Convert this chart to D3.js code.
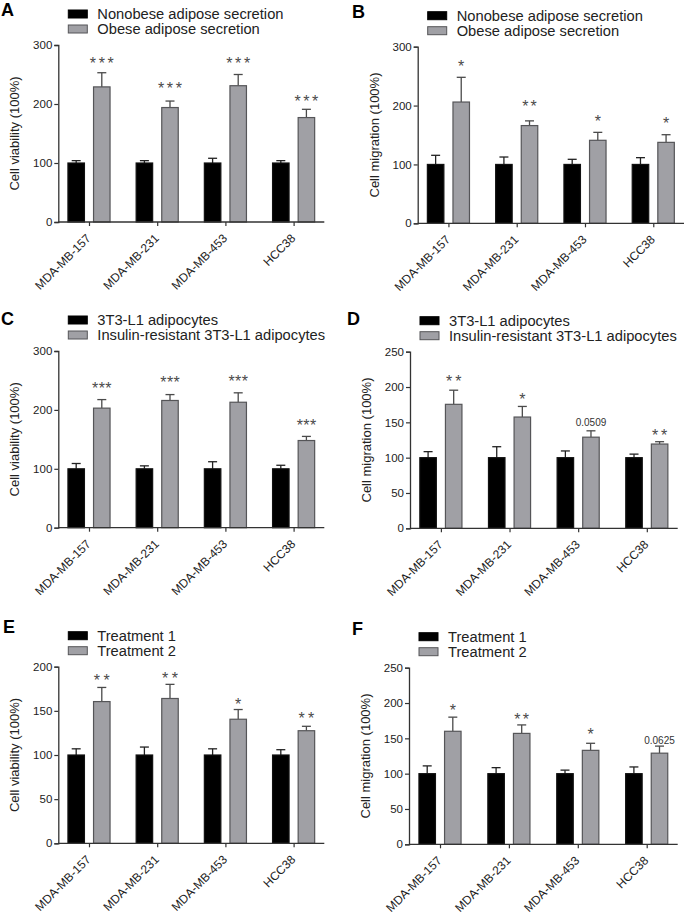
<!DOCTYPE html>
<html>
<head>
<meta charset="utf-8">
<script src="https://cdn.jsdelivr.net/npm/d3@7"></script>
<style>
  html, body { margin: 0; padding: 0; background: #fff; }
  svg { display: block; }
  text { font-family: "Liberation Sans", Arial, sans-serif; }
</style>
</head>
<body>
<svg id="chart" width="685" height="915"></svg>
<script>
// ---------------- data ----------------
const categories = ["MDA-MB-157", "MDA-MB-231", "MDA-MB-453", "HCC38"];

const legendAB = ["Nonobese adipose secretion", "Obese adipose secretion"];
const legendCD = ["3T3-L1 adipocytes", "Insulin-resistant 3T3-L1 adipocytes"];
const legendEF = ["Treatment 1", "Treatment 2"];

// Panel A – cell viability
const aControl = [100, 100, 100, 100];
const aControlErr = [4, 4, 8, 4];
const aTreated = [229, 194, 231, 177];
const aTreatedErr = [24, 11, 19, 14];
const aLabels = ["***", "***", "***", "***"];
const aLabelY = [275, 233, 275, 211];

// Panel B – cell migration
const bControl = [100, 100, 100, 100];
const bControlErr = [15.5, 12.6, 8.7, 11.5];
const bTreated = [206, 166, 141, 137.5];
const bTreatedErr = [42, 8, 13.5, 13];
const bLabels = ["*", "**", "*", "*"];
const bLabelY = [274, 205, 180, 177];

// Panel C – cell viability
const cControl = [100, 100, 100, 100];
const cControlErr = [9, 5, 12, 6];
const cTreated = [203, 216, 213, 148];
const cTreatedErr = [14.5, 10, 16, 7];
const cLabels = ["***", "***", "***", "***"];
const cLabelY = [244, 253, 255, 180];

// Panel D – cell migration
const dControl = [100, 100, 100, 100];
const dControlErr = [8.5, 15.5, 9.5, 5];
const dTreated = [175.5, 157.5, 129, 119.3];
const dTreatedErr = [20, 15, 9, 3.3];
const dLabels = ["**", "*", "0.0509", "**"];
const dLabelY = [213.7, 187.7, 150, 137.7];

// Panel E – cell viability
const eControl = [100, 100, 100, 100];
const eControlErr = [7, 9, 7, 6];
const eTreated = [160.5, 164, 140.5, 127.5];
const eTreatedErr = [16, 16, 11, 5];
const eLabels = ["**", "**", "*", "**"];
const eLabelY = [188.7, 191.3, 161.5, 146];

// Panel F – cell migration
const fControl = [100, 100, 100, 100];
const fControlErr = [11, 8.5, 5, 9.5];
const fTreated = [160, 157, 133, 129];
const fTreatedErr = [20, 12, 10, 10];
const fLabels = ["*", "**", "*", "0.0625"];
const fLabelY = [194.8, 182, 160.8, 146.7];

// y-axis settings
const yMaxViab = 300, yTicksViab = [0, 100, 200, 300];
const yMax250 = 250, yTicks250 = [0, 50, 100, 150, 200, 250];
const yMax200 = 200, yTicks200 = [0, 50, 100, 150, 200];

// ---------------- layout ----------------
const panels = [
  { letter: "A", lx: 1, ly: 16, left: 58.3, right: 324.3, top: 45, bottom: 222,
    yLabel: "Cell viability (100%)", yMax: yMaxViab, yTicks: yTicksViab, legend: legendAB,
    control: aControl, controlErr: aControlErr, treated: aTreated, treatedErr: aTreatedErr,
    labels: aLabels, labelY: aLabelY, starSpacing: 2.6 },
  { letter: "B", lx: 352, ly: 18, left: 417.7, right: 684, top: 46.7, bottom: 223.3,
    yLabel: "Cell migration (100%)", yMax: yMaxViab, yTicks: yTicksViab, legend: legendAB,
    control: bControl, controlErr: bControlErr, treated: bTreated, treatedErr: bTreatedErr,
    labels: bLabels, labelY: bLabelY, starSpacing: 2.2 },
  { letter: "C", lx: 1, ly: 325, left: 58.3, right: 324.3, top: 351, bottom: 527.7,
    yLabel: "Cell viability (100%)", yMax: yMaxViab, yTicks: yTicksViab, legend: legendCD,
    control: cControl, controlErr: cControlErr, treated: cTreated, treatedErr: cTreatedErr,
    labels: cLabels, labelY: cLabelY, starSpacing: 0.4 },
  { letter: "D", lx: 347, ly: 325, left: 410, right: 677.7, top: 351.7, bottom: 528.3,
    yLabel: "Cell migration (100%)", yMax: yMax250, yTicks: yTicks250, legend: legendCD,
    control: dControl, controlErr: dControlErr, treated: dTreated, treatedErr: dTreatedErr,
    labels: dLabels, labelY: dLabelY, starSpacing: 3 },
  { letter: "E", lx: 3, ly: 633, left: 58.3, right: 324.3, top: 666.7, bottom: 843.3,
    yLabel: "Cell viability (100%)", yMax: yMax200, yTicks: yTicks200, legend: legendEF,
    control: eControl, controlErr: eControlErr, treated: eTreated, treatedErr: eTreatedErr,
    labels: eLabels, labelY: eLabelY, starSpacing: 3.4 },
  { letter: "F", lx: 352, ly: 635, left: 409, right: 677.7, top: 667.7, bottom: 844.3,
    yLabel: "Cell migration (100%)", yMax: yMax250, yTicks: yTicks250, legend: legendEF,
    control: fControl, controlErr: fControlErr, treated: fTreated, treatedErr: fTreatedErr,
    labels: fLabels, labelY: fLabelY, starSpacing: 2.2, serifNumbers: true }
];

const BLACK = "#000000";
const GRAY = "#a0a0a5";
const GRAY_STROKE = "#555558";
const AXIS = "#333333";
const TEXT = "#222222";
const BAR_W = 16.5;
const BAR_OFF = 12.8;

const svg = d3.select("#chart");

panels.forEach(p => {
  const g = svg.append("g");

  const x = d3.scalePoint().domain(categories).range([p.left, p.right]).padding(0.45);
  const y = d3.scaleLinear().domain([0, p.yMax]).range([p.bottom, p.top]);

  // panel letter
  g.append("text")
    .attr("x", p.lx).attr("y", p.ly)
    .attr("font-size", 18).attr("font-weight", "bold").attr("fill", "#000")
    .text(p.letter);

  // legend
  const lg = g.append("g");
  p.legend.forEach((name, i) => {
    const by = p.top - 35 + i * 15;
    lg.append("rect")
      .attr("x", p.left + 10).attr("y", by).attr("width", 19).attr("height", 8)
      .attr("fill", i === 0 ? BLACK : GRAY)
      .attr("stroke", i === 0 ? BLACK : GRAY_STROKE).attr("stroke-width", 1);
    lg.append("text")
      .attr("x", p.left + 39).attr("y", by + 4).attr("dy", "0.36em")
      .attr("font-size", 14.7).attr("fill", TEXT)
      .text(name);
  });

  // bars
  const series = [
    { vals: p.control, errs: p.controlErr, off: -BAR_OFF, fill: BLACK, stroke: "#111" },
    { vals: p.treated, errs: p.treatedErr, off: BAR_OFF, fill: GRAY, stroke: GRAY_STROKE }
  ];
  series.forEach(s => {
    const data = categories.map((c, i) => ({ c, v: s.vals[i], e: s.errs[i] }));
    // error bars (upper only)
    const eg = g.append("g").attr("stroke", s.fill === BLACK ? "#222" : "#4a4a4a").attr("stroke-width", 1.3);
    eg.selectAll("line.v").data(data).join("line")
      .attr("x1", d => x(d.c) + s.off).attr("x2", d => x(d.c) + s.off)
      .attr("y1", d => y(d.v)).attr("y2", d => y(d.v + d.e));
    eg.selectAll("line.cap").data(data).join("line")
      .attr("x1", d => x(d.c) + s.off - 4.5).attr("x2", d => x(d.c) + s.off + 4.5)
      .attr("y1", d => y(d.v + d.e)).attr("y2", d => y(d.v + d.e));
    g.append("g").selectAll("rect").data(data).join("rect")
      .attr("x", d => x(d.c) + s.off - BAR_W / 2)
      .attr("width", BAR_W)
      .attr("y", d => y(d.v))
      .attr("height", d => y(0) - y(d.v))
      .attr("fill", s.fill)
      .attr("stroke", s.stroke).attr("stroke-width", 1.2);
  });

  // significance labels
  categories.forEach((c, i) => {
    const lab = p.labels[i];
    const isNum = /\d/.test(lab);
    const t = g.append("text")
      .attr("x", x(c) + BAR_OFF)
      .attr("y", y(p.labelY[i]))
      .attr("text-anchor", "middle")
      .attr("fill", "#4a4a4a")
      .text(lab);
    if (isNum) {
      t.attr("font-size", 10).attr("dy", "0.36em").attr("fill", "#333");
      if (p.serifNumbers) t.attr("font-family", "'Liberation Serif', 'Times New Roman', serif");
    } else {
      t.attr("font-size", 16).attr("dy", "0.6em")
       .attr("letter-spacing", p.starSpacing + "px");
      if (p.starSpacing > 0) t.attr("dx", (p.starSpacing / 2) + "px");
    }
  });

  // y axis
  const yAxis = g.append("g")
    .attr("transform", `translate(${p.left},0)`)
    .call(d3.axisLeft(y).tickValues(p.yTicks).tickSize(4).tickPadding(2).tickFormat(d3.format("d")));
  yAxis.select(".domain").attr("stroke", AXIS).attr("stroke-width", 1.3);
  yAxis.selectAll(".tick line").attr("stroke", AXIS).attr("stroke-width", 1.2);
  yAxis.selectAll(".tick text").attr("font-size", 11.5).attr("fill", TEXT)
    .attr("font-family", "'Liberation Sans', Arial, sans-serif");

  // x axis
  const xAxis = g.append("g")
    .attr("transform", `translate(0,${p.bottom})`)
    .call(d3.axisBottom(x).tickSize(4).tickSizeOuter(0).tickFormat(""));
  xAxis.select(".domain").attr("stroke", AXIS).attr("stroke-width", 1.3)
    .attr("d", `M${p.left},0H${p.right}`);
  xAxis.selectAll(".tick line").attr("stroke", AXIS).attr("stroke-width", 1.2);
  xAxis.selectAll(".tick").append("text")
    .attr("fill", TEXT)
    .attr("font-size", 12)
    .attr("font-family", "'Liberation Sans', Arial, sans-serif")
    .attr("text-anchor", "end")
    .attr("transform", "translate(2,17) rotate(-45)")
    .text(d => d);

  // y label
  g.append("text")
    .attr("transform", `translate(${p.left - 43.5},${(p.top + p.bottom) / 2}) rotate(-90)`)
    .attr("text-anchor", "middle")
    .attr("dy", "0.36em")
    .attr("font-size", 13).attr("fill", TEXT)
    .text(p.yLabel);
});
</script>
</body>
</html>
